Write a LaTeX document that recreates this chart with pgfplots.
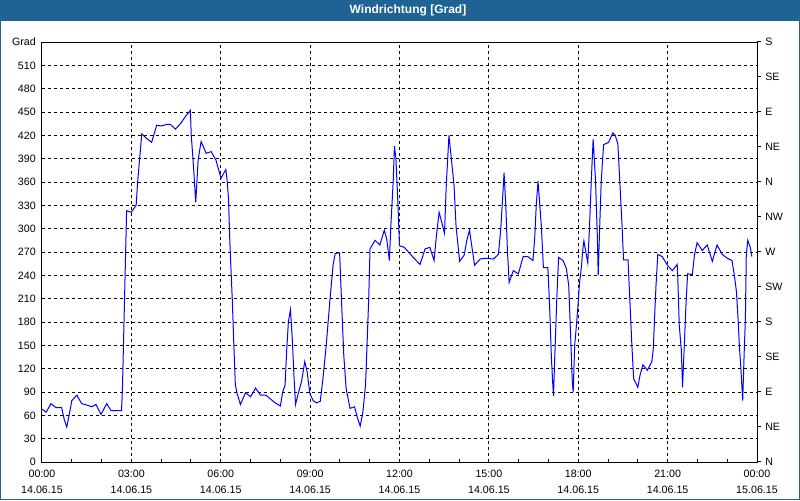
\documentclass[border=0pt]{standalone}
\usepackage{fontspec}
\setmainfont{Liberation Sans}
\usepackage{pgfplots}
\pgfplotsset{compat=1.18}
\definecolor{barblue}{RGB}{30,99,148}
\definecolor{lineblue}{RGB}{0,0,255}

\begin{document}
\begin{tikzpicture}
% canvas 800x500 px at 0.75pt per px
\useasboundingbox (0,0) rectangle (600pt,375pt);
\fill[white] (0,0) rectangle (600pt,375pt);
\fill[barblue] (0,359.25pt) rectangle (600pt,375pt);
\draw[barblue, line width=0.75pt] (0.375pt,0.375pt) rectangle (599.625pt,374.625pt);
\node[text=white, inner sep=0pt, font=\bfseries\fontsize{9}{10}\selectfont] at (306pt,367.1pt) {Windrichtung [Grad]};

\begin{axis}[
  at={(31.5pt,28.5pt)}, anchor=south west,
  scale only axis, width=536.25pt, height=315pt,
  xmin=0, xmax=24, ymin=0, ymax=540,
  axis line style={-, black, line width=0.75pt},
  xtick={0,3,...,24},
  xticklabels={{00:00\\14.06.15},{03:00\\14.06.15},{06:00\\14.06.15},{09:00\\14.06.15},
    {12:00\\14.06.15},{15:00\\14.06.15},{18:00\\14.06.15},{21:00\\14.06.15},{00:00\\15.06.15}},
  xticklabel style={align=center, inner sep=0pt, anchor=north, yshift=-6pt,
    font=\fontsize{8}{11.6}\selectfont},
  minor x tick num=2,
  ytick={0,30,...,540},
  yticklabels={0,30,60,90,120,150,180,210,240,270,300,330,360,390,420,450,480,510,Grad},
  yticklabel style={anchor=east, inner sep=0pt, xshift=-4.5pt, font=\fontsize{8}{10}\selectfont},
  xtick pos=bottom, ytick pos=left,
  tick align=inside,
  major tick length=2.25pt, minor tick length=2.25pt,
  tick style={black, line width=0.75pt},
  ytick style={draw=none},
  grid=major,
  major grid style={black, line width=0.75pt, dash pattern=on 2.25pt off 2.25pt},
]
\addplot[lineblue, line width=0.75pt, mark=none] coordinates {
(0.0,68)(0.14,64)(0.30,75)(0.47,70)(0.66,70)(0.75,54)(0.83,45)(0.92,62)(1.0,79)(1.17,86)
(1.33,75)(1.53,73)(1.67,71)(1.81,74)(1.98,61)(2.17,75)(2.32,66)(2.67,66)(2.70,94)(2.84,323)
(2.99,321)(3.16,330)(3.21,360)(3.35,422)(3.51,416)(3.68,411)(3.85,433)(4.0,432)(4.18,434)(4.31,434)
(4.48,428)(4.65,435)(4.81,444)(4.98,452)(5.01,420)(5.06,394)(5.1,371)(5.16,334)(5.2,360)(5.24,388)
(5.34,412)(5.51,397)(5.68,399)(5.84,388)(6.01,365)(6.17,376)(6.21,364)(6.26,339)(6.3,289)(6.35,242)
(6.39,206)(6.44,150)(6.49,99)(6.55,88)(6.66,74)(6.83,89)(7.0,84)(7.17,95)(7.33,86)(7.51,86)
(7.67,81)(7.83,76)(8.0,72)(8.08,90)(8.16,99)(8.21,141)(8.27,180)(8.34,196)(8.4,159)(8.46,109)
(8.51,74)(8.6,88)(8.71,103)(8.82,129)(8.9,116)(8.99,88)(9.1,79)(9.21,76)(9.34,78)(9.43,107)
(9.54,150)(9.66,206)(9.77,253)(9.84,268)(9.99,269)(10.06,201)(10.13,137)(10.21,94)(10.34,69)(10.49,71)
(10.58,58)(10.68,46)(10.77,64)(10.86,99)(10.91,150)(10.97,214)(11.01,274)(11.18,285)(11.34,279)(11.49,298)
(11.57,287)(11.66,259)(11.71,304)(11.79,362)(11.83,406)(11.88,390)(11.94,339)(12.0,278)(12.16,276)(12.3,270)
(12.44,264)(12.69,254)(12.86,274)(13.02,276)(13.16,259)(13.24,291)(13.33,321)(13.42,308)(13.51,294)(13.57,356)
(13.66,420)(13.73,394)(13.83,356)(13.9,302)(14.02,258)(14.17,266)(14.26,285)(14.35,298)(14.44,274)(14.52,253)
(14.71,261)(14.88,262)(15.16,261)(15.32,267)(15.4,300)(15.47,345)(15.51,372)(15.57,328)(15.62,274)(15.68,231)
(15.82,246)(15.99,242)(16.15,264)(16.31,264)(16.48,259)(16.54,289)(16.59,330)(16.65,361)(16.71,330)(16.76,304)
(16.83,250)(16.98,250)(17.04,199)(17.1,133)(17.14,103)(17.17,85)(17.21,133)(17.28,210)(17.34,263)(17.49,259)
(17.6,249)(17.68,227)(17.74,167)(17.8,103)(17.83,90)(17.88,150)(17.94,176)(17.99,201)(18.04,229)(18.1,249)
(18.16,276)(18.19,284)(18.25,271)(18.32,256)(18.38,304)(18.44,364)(18.5,415)(18.58,362)(18.64,291)(18.67,240)
(18.71,291)(18.77,360)(18.85,408)(19.02,411)(19.16,423)(19.24,420)(19.33,409)(19.39,364)(19.47,304)(19.52,260)
(19.67,260)(19.73,210)(19.8,150)(19.86,107)(19.91,103)(20.0,96)(20.07,111)(20.17,125)(20.32,118)(20.47,129)
(20.52,146)(20.56,184)(20.61,227)(20.67,267)(20.82,264)(20.99,253)(21.16,246)(21.32,254)(21.34,238)(21.39,176)
(21.46,144)(21.5,96)(21.55,141)(21.61,197)(21.67,242)(21.83,241)(21.9,266)(21.99,282)(22.16,272)(22.33,279)
(22.5,258)(22.66,279)(22.83,267)(23.0,262)(23.16,259)(23.24,240)(23.31,219)(23.37,180)(23.41,148)(23.46,120)
(23.49,99)(23.52,79)(23.57,141)(23.61,184)(23.64,266)(23.69,285)(23.78,275)(23.83,264)
};
\end{axis}

% compass directions on the right-hand axis
\begin{axis}[
  at={(31.5pt,28.5pt)}, anchor=south west,
  scale only axis, width=536.25pt, height=315pt,
  xmin=0, xmax=24, ymin=0, ymax=540,
  axis x line=none, axis y line*=right,
  axis line style={-, black, line width=0.75pt},
  ytick={0,45,...,540},
  yticklabels={N,NE,E,SE,S,SW,W,NW,N,NE,E,SE,S},
  tick align=outside, major tick length=3pt,
  tick style={black, line width=0.75pt},
  yticklabel style={anchor=west, inner sep=0pt, xshift=3pt, font=\fontsize{8}{10}\selectfont},
]
\end{axis}
\end{tikzpicture}
\end{document}
